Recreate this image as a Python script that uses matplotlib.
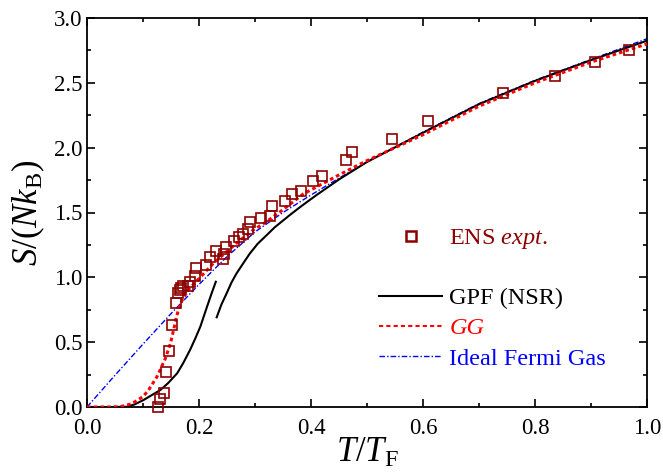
import matplotlib
matplotlib.use("Agg")
import matplotlib.pyplot as plt
from matplotlib.ticker import MultipleLocator, FormatStrFormatter
from matplotlib.lines import Line2D

plt.rcParams['font.family'] = ['Liberation Serif', 'DejaVu Serif']
plt.rcParams['mathtext.fontset'] = 'custom'
plt.rcParams['mathtext.rm'] = 'Liberation Serif'
plt.rcParams['mathtext.it'] = 'Liberation Serif:italic'
plt.rcParams['mathtext.bf'] = 'Liberation Serif:bold'

# ENS experimental data
ens_t = [0.126, 0.130, 0.138, 0.141, 0.146, 0.151, 0.159, 0.162, 0.166, 0.168, 0.172,
         0.181, 0.184, 0.193, 0.194, 0.2125, 0.220, 0.230, 0.242, 0.245, 0.249,
         0.263, 0.272, 0.278, 0.288, 0.291, 0.310, 0.326, 0.330, 0.354, 0.366,
         0.382, 0.404, 0.419, 0.4625, 0.474, 0.544, 0.609, 0.743, 0.836, 0.908, 0.968]
ens_s = [0.00, 0.06, 0.105, 0.27, 0.43, 0.63, 0.80, 0.88, 0.90, 0.915, 0.93,
         0.933, 0.966, 1.01, 1.07, 1.095, 1.16, 1.205, 1.139, 1.18, 1.236,
         1.28, 1.31, 1.334, 1.37, 1.424, 1.46, 1.475, 1.55, 1.59, 1.64,
         1.668, 1.745, 1.784, 1.904, 1.963, 2.07, 2.207, 2.42, 2.555, 2.657, 2.757]

# GPF (NSR) - two branches
gpf1_t = [0.0, 0.05, 0.071, 0.085, 0.101, 0.115, 0.131, 0.145, 0.161, 0.172, 0.184,
          0.193, 0.2024, 0.2143, 0.222, 0.23]
gpf1_s = [0.0, 0.0, 0.002, 0.02, 0.054, 0.09, 0.131, 0.185, 0.26, 0.34, 0.44,
          0.525, 0.62, 0.773, 0.87, 0.966]
gpf2_t = [0.2316, 0.24, 0.2494, 0.258, 0.267, 0.28, 0.291, 0.305, 0.321, 0.335, 0.3506,
          0.365, 0.38, 0.395, 0.41, 0.45, 0.5, 0.6, 0.7, 0.8, 0.9, 1.0]
gpf2_s = [0.692, 0.79, 0.877, 0.96, 1.03, 1.115, 1.185, 1.26, 1.326, 1.385, 1.44,
          1.49, 1.54, 1.588, 1.635, 1.755, 1.89, 2.115, 2.335, 2.515, 2.675, 2.825]

# GG
gg_t = [0.0, 0.04, 0.06, 0.08, 0.10, 0.11, 0.125, 0.14, 0.149, 0.155, 0.16, 0.167, 0.18,
        0.2, 0.2256, 0.25, 0.273, 0.297, 0.321, 0.345, 0.386, 0.45, 0.5, 0.6, 0.7, 0.8, 0.9, 1.0]
gg_s = [0.0, 0.0, 0.003, 0.025, 0.08, 0.131, 0.234, 0.375, 0.49, 0.60, 0.70, 0.80, 0.90,
        0.99, 1.108, 1.20, 1.285, 1.365, 1.43, 1.506, 1.642, 1.79, 1.90, 2.10, 2.32, 2.50, 2.66, 2.80]

# Ideal Fermi gas
ifg_t = [0.0, 0.05, 0.1, 0.15, 0.2, 0.25, 0.3, 0.35, 0.4, 0.45, 0.5, 0.6, 0.7, 0.8, 0.9, 1.0]
ifg_s = [0.0, 0.245, 0.485, 0.72, 0.945, 1.16, 1.35, 1.50, 1.635, 1.765, 1.89, 2.12, 2.34, 2.52, 2.68, 2.84]

ens_color = '#8b0000'

fig = plt.figure(figsize=(6.63, 4.72), dpi=100)
ax = fig.add_axes([87/663, 1-407/472, 560/663, 389/472])

ax.plot(ifg_t, ifg_s, color='blue', lw=1.0, linestyle=(0, (4, 1.5, 1, 1.5)), zorder=2)
ax.plot(gpf1_t, gpf1_s, color='black', lw=1.5, zorder=3)
ax.plot(gpf2_t, gpf2_s, color='black', lw=1.5, zorder=3)
ax.plot(gg_t, gg_s, color='red', lw=2.2, linestyle=(0, (1.2, 1.0)), zorder=4)
ax.plot(ens_t, ens_s, linestyle='none', marker='s', markersize=6.8, markerfacecolor='none',
        markeredgecolor=ens_color, markeredgewidth=1.2, zorder=5, clip_on=False)

ax.set_xlim(0, 1.0)
ax.set_ylim(0, 3.0)
ax.xaxis.set_major_locator(MultipleLocator(0.2))
ax.xaxis.set_minor_locator(MultipleLocator(0.1))
ax.yaxis.set_major_locator(MultipleLocator(0.5))
ax.yaxis.set_minor_locator(MultipleLocator(0.25))
ax.xaxis.set_major_formatter(FormatStrFormatter('%.1f'))
ax.yaxis.set_major_formatter(FormatStrFormatter('%.1f'))
ax.tick_params(which='both', direction='in', top=True, right=True, labelsize=16.5, width=1.2)
ax.tick_params(which='major', length=5.8)
ax.tick_params(which='minor', length=3.0)
ax.tick_params(axis='x', which='major', pad=8)
for sp in ax.spines.values():
    sp.set_linewidth(1.3)

ax.set_xlabel(r'$T/T_{\mathrm{F}}$', fontsize=25, labelpad=-2)
ax.set_ylabel(r'$S/(Nk_{\mathrm{B}})$', fontsize=25, labelpad=5)

# Legend for experiment
h_ens = Line2D([], [], linestyle='none', marker='s', markersize=6.5, markerfacecolor='none',
               markeredgecolor=ens_color, markeredgewidth=1.8)
leg1 = ax.legend([h_ens], [r'ENS $\mathit{expt.}$'], loc='upper left',
                 bbox_to_anchor=((379-87)/560, (407-227)/389), frameon=False,
                 fontsize=17.5, handlelength=2.6, handletextpad=0.3, borderpad=0,
                 borderaxespad=0, labelcolor=[ens_color])
ax.add_artist(leg1)

h_gpf = Line2D([], [], color='black', lw=1.5)
h_gg = Line2D([], [], color='red', lw=1.5, linestyle=(0, (2, 1.5)))
h_ifg = Line2D([], [], color='blue', lw=1.0, linestyle=(0, (4, 1.5, 1, 1.5)))
leg2 = ax.legend([h_gpf, h_gg, h_ifg], ['GPF (NSR)', 'GG', 'Ideal Fermi Gas'],
                 loc='upper left', bbox_to_anchor=((379-87)/560, (407-287)/389),
                 frameon=False, fontsize=17.5, handlelength=2.6, handletextpad=0.3,
                 borderpad=0, borderaxespad=0, labelspacing=0.34,
                 labelcolor=['black', 'red', 'blue'])
leg2.get_texts()[1].set_fontstyle('italic')

fig.savefig('out.png', dpi=100)
